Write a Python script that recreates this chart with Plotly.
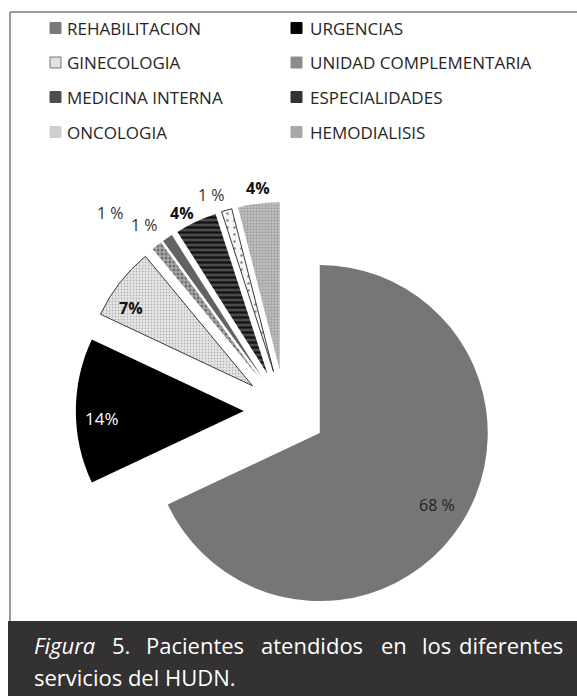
import plotly.graph_objects as go

W, H = 577, 696

# ---- data ----
labels = ["REHABILITACION", "URGENCIAS", "GINECOLOGIA", "UNIDAD COMPLEMENTARIA",
          "MEDICINA INTERNA", "ESPECIALIDADES", "ONCOLOGIA", "HEMODIALISIS"]
values = [68, 14, 7, 1, 1, 4, 1, 4]
label_text = ["68 %", "14%", "7%", "1 %", "1 %", "4%", "1 %", "4%"]
caption_line1 = ["<i>Figura</i>", "5.", "Pacientes", "atendidos", "en", "los", "diferentes"]
caption_line2 = "servicios del HUDN."

# ---- styles ----
fill_colors = ["#767676", "#000000", "#e9e9e9", "#ababab", "#626262", "#4a4a4a", "#f7f7f7", "#bdbdbd"]
pat_shapes = ["", "", ".", ".", "", "-", ".", "."]
pat_fg = ["#767676", "#000000", "#b4b4b4", "#6e6e6e", "#626262", "#111111", "#8c8c8c", "#9a9a9a"]
pat_size = [4, 4, 3, 4, 4, 5, 7, 3]
pat_sol = [0.3, 0.3, 0.3, 0.45, 0.3, 0.45, 0.12, 0.3]
line_w = [0, 0, 1, 0, 0, 0, 1, 0]
legend_sym = ["#7a7a7a", "#000000", "#e2e2e2", "#8c8c8c", "#4e4e4e", "#333333", "#cfcfcf", "#a9a9a9"]
legend_sym_line = ["#7a7a7a", "#000000", "#777777", "#8c8c8c", "#4e4e4e", "#333333", "#cfcfcf", "#a9a9a9"]
label_pos = [(437, 505), (102, 418), (131, 308), (111, 213), (144, 225), (182, 213), (211, 195), (258, 188)]
label_bold = [False, False, True, False, False, True, False, True]
label_col = ["#222222", "#ffffff", "#111111", "#333333", "#333333", "#111111", "#333333", "#111111"]
label_size = [16, 17, 16, 16, 16, 16, 16, 16]
cap_x = [32, 110, 144, 259, 379, 420, 565]
cap_anchor = ["left", "left", "left", "left", "left", "left", "right"]

def px(x):
    return x / W

def py(y):
    return 1 - y / H

pull = 0.245
r = 168
cx, cy = 285, 411
half = r * (1 + pull)

fig = go.Figure(go.Pie(
    labels=labels,
    values=values,
    sort=False,
    direction="clockwise",
    rotation=0,
    pull=[pull] * len(values),
    textinfo="none",
    hoverinfo="label+percent",
    showlegend=False,
    marker=dict(
        colors=fill_colors,
        line=dict(color="#3a3a3a", width=line_w),
        pattern=dict(shape=pat_shapes, fgcolor=pat_fg, size=pat_size,
                     solidity=pat_sol, fillmode="replace", bgcolor=fill_colors),
    ),
    domain=dict(x=[px(cx - half), px(cx + half)], y=[py(cy + half), py(cy - half)]),
))

annotations = []
shapes = [
    dict(type="rect", xref="paper", yref="paper", x0=px(8), x1=1.0, y0=0, y1=py(621),
         fillcolor="#333132", line=dict(width=0), layer="below"),
    dict(type="line", xref="paper", yref="paper", x0=px(10), x1=px(10), y0=py(12), y1=py(621),
         line=dict(color="#7a7a7a", width=1.5)),
    dict(type="line", xref="paper", yref="paper", x0=px(10), x1=1.0, y0=py(12), y1=py(12),
         line=dict(color="#7a7a7a", width=1.5)),
]

# legend (two columns, four rows)
col_sym_x = [50, 291]
col_txt_x = [65, 308]
row_y = [28, 62.5, 97, 132]
for i, name in enumerate(labels):
    c, rr = i % 2, i // 2
    y = row_y[rr]
    x0 = col_sym_x[c]
    shapes.append(dict(type="rect", xref="paper", yref="paper",
                       x0=px(x0), x1=px(x0 + 11), y0=py(y + 5.5), y1=py(y - 5.5),
                       fillcolor=legend_sym[i], line=dict(color=legend_sym_line[i], width=1)))
    annotations.append(dict(x=px(col_txt_x[c]), y=py(y), xref="paper", yref="paper",
                            showarrow=False, text=name, xanchor="left", yanchor="middle",
                            font=dict(family="Open Sans", size=17, color="#262626")))

# data labels
for t, (x, y), b, c, s in zip(label_text, label_pos, label_bold, label_col, label_size):
    annotations.append(dict(
        x=px(x), y=py(y), xref="paper", yref="paper", showarrow=False,
        text="<b>%s</b>" % t if b else t,
        font=dict(family="Open Sans", size=s, color=c),
        xanchor="center", yanchor="middle"))

# caption (justified first line)
for w_, x, a in zip(caption_line1, cap_x, cap_anchor):
    annotations.append(dict(
        x=px(x), y=py(645), xref="paper", yref="paper", showarrow=False,
        text=w_, font=dict(family="Open Sans", size=22, color="#ffffff"),
        xanchor=a, yanchor="middle"))
annotations.append(dict(
    x=px(32), y=py(677), xref="paper", yref="paper", showarrow=False,
    text=caption_line2, font=dict(family="Open Sans", size=22, color="#ffffff"),
    xanchor="left", yanchor="middle"))

fig.update_layout(
    width=W, height=H,
    margin=dict(l=0, r=0, t=0, b=0),
    paper_bgcolor="#ffffff",
    plot_bgcolor="#ffffff",
    annotations=annotations,
    shapes=shapes,
)

fig.write_html("out.html")
